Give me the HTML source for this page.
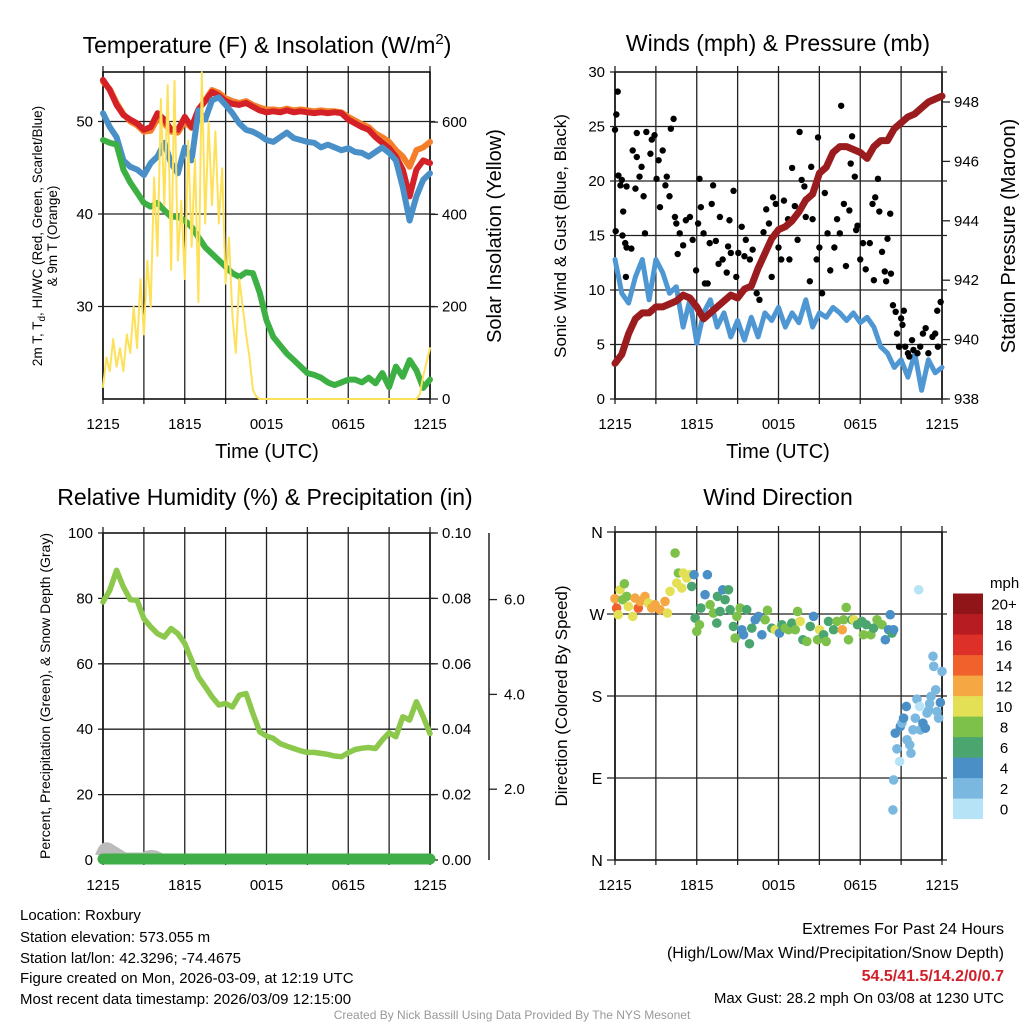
<!DOCTYPE html>
<html><head><meta charset="utf-8"><style>
body{margin:0;background:#fff}
svg{display:block;font-family:"Liberation Sans",sans-serif}
</style></head><body>
<svg id="c" width="1024" height="1024" xmlns="http://www.w3.org/2000/svg">
<g font-size="23" text-anchor="middle" fill="#000">
<text x="267" y="53">Temperature (F) &amp; Insolation (W/m<tspan dy="-9" font-size="15">2</tspan><tspan dy="9">)</tspan></text>
<text x="778" y="51">Winds (mph) &amp; Pressure (mb)</text>
<text x="265" y="505">Relative Humidity (%) &amp; Precipitation (in)</text>
<text x="778" y="505">Wind Direction</text>
</g>
<g fill="#000">
<text x="267" y="458" font-size="20" text-anchor="middle">Time (UTC)</text>
<text x="778" y="458" font-size="20" text-anchor="middle">Time (UTC)</text>
<text transform="translate(42,236) rotate(-90)" font-size="13.5" text-anchor="middle">2m T, T<tspan dy="3" font-size="10">d</tspan><tspan dy="-3">, HI/WC (Red, Green, Scarlet/Blue)</tspan></text>
<text transform="translate(57,236) rotate(-90)" font-size="13.5" text-anchor="middle">&amp; 9m T (Orange)</text>
<text transform="translate(501,236) rotate(-90)" font-size="20" text-anchor="middle">Solar Insolation (Yellow)</text>
<text transform="translate(566,236) rotate(-90)" font-size="17" text-anchor="middle">Sonic Wind &amp; Gust (Blue, Black)</text>
<text transform="translate(1015,236) rotate(-90)" font-size="20" text-anchor="middle">Station Pressure (Maroon)</text>
<text transform="translate(50,696) rotate(-90)" font-size="14" text-anchor="middle">Percent, Precipitation (Green), &amp; Snow Depth (Gray)</text>
<text transform="translate(567,696) rotate(-90)" font-size="17" text-anchor="middle">Direction (Colored By Speed)</text>
</g>
<g font-size="15" fill="#000">
<text x="20" y="920">Location: Roxbury</text>
<text x="20" y="942">Station elevation: 573.055 m</text>
<text x="20" y="963">Station lat/lon: 42.3296; -74.4675</text>
<text x="20" y="983">Figure created on Mon, 2026-03-09, at 12:19 UTC</text>
<text x="20" y="1004">Most recent data timestamp: 2026/03/09 12:15:00</text>
<g text-anchor="end">
<text x="1004" y="934" font-size="16">Extremes For Past 24 Hours</text>
<text x="1004" y="958" font-size="16">(High/Low/Max Wind/Precipitation/Snow Depth)</text>
<text x="1004" y="981" font-size="16" font-weight="bold" fill="#d0202a">54.5/41.5/14.2/0/0.7</text>
<text x="1004" y="1003" font-size="15">Max Gust: 28.2 mph On 03/08 at 1230 UTC</text>
</g>
<text x="512" y="1019" font-size="12" fill="#999" text-anchor="middle">Created By Nick Bassill Using Data Provided By The NYS Mesonet</text>
</g>
</svg>
<script>
// ---- data ----
const timeLabels = ["1215","1815","0015","0615","1215"];
const tempTicks = [30,40,50];
const insolTicks = [0,200,400,600];
const windTicks = [0,5,10,15,20,25,30];
const presTicks = [938,940,942,944,946,948];
const rhTicks = [0,20,40,60,80,100];
const precipTicks = ["0.00","0.02","0.04","0.06","0.08","0.10"];
const snowTicks = ["2.0","4.0","6.0"];
const dirLabels = ["N","E","S","W","N"];
const speedBins = ["0","2","4","6","8","10","12","14","16","18","20+"];
const speedColors = ["#b6e3f5","#7ab8e0","#4a8fc6","#4aa66e","#7ec14a","#e4e056","#f4a742","#f0612c","#dc3028","#b71c22","#8f1518"];

const tempT = [54.5,53.4,51.8,50.7,50.2,49.8,49.1,49.4,50.9,50.2,49.1,49.1,50.5,49.4,51.3,52.2,53.2,52.8,52.2,51.9,51.8,52,51.6,51.2,51.0,51.1,51.0,51.2,51.0,51.1,51.0,50.9,51.0,50.9,51.0,50.9,50.2,49.8,49.4,49.1,48.3,47.7,47.1,46.2,44.8,41.9,44.8,45.8,45.5];
const temp9m = [54.3,53.5,52.0,50.8,50.0,49.6,48.9,49.0,50.3,49.8,48.9,48.8,50.0,49.3,51.3,52.3,53.4,53.1,52.5,52.2,52.0,52.2,51.8,51.5,51.3,51.3,51.2,51.4,51.2,51.3,51.2,51.1,51.2,51.1,51.1,51.0,50.5,50.1,49.7,49.4,48.7,48.3,47.8,46.9,46.2,45.1,46.9,47.2,47.8];
const heatIdx = [50.9,49.4,48.3,45.8,45.1,44.8,44.2,45.5,46.2,47.7,45.5,44.4,47.2,45.8,51.2,50.2,52.3,52.6,51.8,50.9,49.8,49.1,48.9,48.5,48.0,47.8,48.3,48.8,48.2,48.0,47.8,47.7,47.2,47.5,47.2,46.9,47.1,46.7,46.6,46.2,46.7,47.2,46.6,45.8,42.9,39.3,41.9,43.7,44.4];
const dewT = [48.0,47.7,47.5,44.8,43.4,42.3,41.2,40.8,41.2,40.4,39.7,39.7,39.3,38.6,37.5,36.4,35.7,35.0,34.3,33.6,33.2,33.7,33.6,31.5,28.5,26.7,25.8,24.9,24.2,23.5,22.8,22.6,22.3,21.8,21.5,21.8,22.1,22.1,21.8,22.3,21.7,22.8,21.3,23.5,22.4,24.2,23.1,21.2,22.1];
const insolHours = [0,0.25,0.5,0.75,1,1.25,1.5,1.75,2,2.25,2.5,2.75,3,3.25,3.5,3.75,4,4.25,4.5,4.75,5,5.25,5.5,5.75,6,6.25,6.5,6.75,7,7.25,7.5,7.75,8,8.25,8.5,8.75,9,9.25,9.5,9.75,10,10.25,10.5,10.75,11,11.25,11.5,12,23,23.25,23.5,23.75,24];
const insol = [26,90,60,130,70,110,60,140,100,200,110,260,140,300,200,480,310,650,420,680,280,690,300,430,260,560,330,520,210,708,380,600,420,580,380,500,250,350,180,100,260,200,140,90,20,5,0,0,0,10,50,80,110];
const pres = [939.2,939.5,940.2,940.7,940.9,940.9,941.1,941.1,941.2,941.3,941.5,941.4,941.1,940.7,940.9,941.1,941.3,941.5,941.4,941.7,941.8,942.4,942.9,943.4,943.7,943.8,944.0,944.3,944.7,944.9,945.6,945.8,946.3,946.5,946.5,946.4,946.3,946.1,946.5,946.7,946.7,947.1,947.3,947.5,947.6,947.8,948.0,948.1,948.2];
const sonic = [12.8,9.7,8.8,11.2,12.8,9.1,12.8,11.6,9.7,10.3,6.6,9.1,5.1,7.9,9.1,6.6,7.9,5.7,7.2,5.4,7.5,5.7,7.9,7.2,8.4,6.6,7.9,7.0,9.1,6.6,7.9,7.5,8.4,7.9,7.2,7.9,7.0,7.5,6.6,4.8,4.2,2.9,3.6,2.0,4.2,0.8,3.6,2.4,2.9];
const gustHours = [0,0.2,0.1,0.25,0.4,0.5,0.6,0.05,0.55,0.75,0.85,1.2,0.8,0.85,1.3,1.6,1.5,1.6,1.8,1.95,2.1,2.3,2.6,2.2,2.7,2.9,3.05,3.2,3.5,3.7,3.8,3.3,4.0,4.3,4.1,4.4,4.5,4.75,4.6,5,5.2,5.5,5.7,5.95,6.1,6.2,6.5,6.3,6.6,6.8,6.95,7.2,7.1,7.4,7.6,7.7,7.9,8.2,8.3,8.5,8.4,8.7,8.9,9.05,9.3,9.5,9.6,9.9,10.1,10.4,10.6,10.9,11.1,11.3,11.5,11.6,11.8,12.0,12.2,12.4,12.7,12.8,13.0,13.2,13.4,13.55,13.7,13.9,14.0,14.3,14.4,14.5,14.8,14.9,15.0,15.2,15.4,15.6,15.8,16.1,16.3,16.5,16.6,16.8,16.95,17.2,17.3,17.4,17.6,17.7,17.8,18.0,18.2,18.4,18.7,18.9,19.0,19.1,19.3,19.4,19.6,19.8,19.9,20.0,20.2,20.25,20.4,20.6,20.7,20.85,21.0,21.1,21.2,21.3,21.5,21.6,21.8,21.9,22.2,22.4,22.6,22.8,23.0,23.3,23.5,23.7,23.65,23.9];
const gust = [24.7,28.2,26.1,20.5,19.6,20.1,17.2,15.4,15.0,14.3,13.9,13.8,11.2,19.5,22.8,22.2,19.3,24.4,20.4,21.3,18.6,24.5,22.5,15.2,23.8,24.2,20.2,21.9,22.8,19.6,20.4,17.6,18.6,25.7,24.8,16.7,16.1,15.2,13.3,14.1,16.4,16.7,14.6,11.8,16.1,20.2,15.2,17.6,10.6,10.6,14.3,19.6,17.9,14.5,12.4,16.7,12.8,11.6,14.0,13.4,16.4,19.1,11.2,13.4,15.8,13.1,14.6,12.8,13.7,9.7,9.1,15.3,17.4,16.1,11.2,18.5,17.9,13.9,12.8,18.2,16.5,12.8,21.2,17.7,14.6,24.5,20.1,19.5,16.7,10.8,21.3,16.5,12.8,24.0,13.9,9.7,18.9,15.2,11.8,13.9,16.5,15.2,26.9,17.9,12.2,17.3,21.6,24.1,20.4,15.5,15.9,12.8,14.3,11.9,14.3,17.9,10.9,18.5,20.2,17.2,13.5,11.7,10.8,14.7,17.0,11.5,8.6,8.0,6.0,4.8,7.4,6.8,8.1,4.8,4.2,3.9,5.4,4.5,4.2,4.8,6.0,6.5,4.2,5.7,6.0,4.8,8.1,8.9];
const rh = [78.9,82.5,88.6,83.5,79.6,79.4,73.8,71.3,69.2,68.2,70.8,69.2,66.2,61.1,56.0,53.0,49.9,47.4,47.9,46.8,50.4,50.9,44.8,39.2,37.9,37.2,35.6,34.8,34.1,33.4,32.9,32.9,32.6,32.3,31.8,31.6,32.8,33.8,34.2,34.4,34.1,36.7,38.9,37.7,43.8,42.8,48.4,43.8,38.7];
const dirHours = [0,0.12,0.24,0.37,0.56,0.69,0.86,0.98,1.3,1.47,1.71,1.84,2.2,2.45,2.7,2.94,3.3,3.67,3.85,4.04,4.41,4.53,4.65,4.9,5.02,5.27,5.51,5.63,5.8,5.88,6.0,6.2,6.3,6.61,6.78,6.98,7.22,7.47,7.52,7.71,7.91,8.08,8.33,8.45,8.69,8.82,8.94,9.18,9.31,9.43,9.67,9.87,10.04,10.29,10.53,10.78,11.02,11.19,11.51,11.76,12.07,12.25,12.49,12.74,12.98,13.23,13.4,13.59,13.79,14.08,14.33,14.57,14.87,15.01,15.31,15.5,15.67,16.04,16.29,16.68,16.78,16.97,17.14,17.39,17.51,17.8,18.12,18.24,18.44,18.78,18.98,19.23,19.6,19.84,20.08,20.2,20.33,20.45,20.45,20.4,20.57,20.69,20.89,20.94,21.06,21.18,21.38,21.43,21.63,21.72,21.87,22.04,22.16,22.29,22.36,22.41,22.6,22.78,22.9,23.02,23.09,23.19,23.39,23.34,23.54,23.63,23.75,23.88,24];
const dirDeg = [286.8,276.5,269.2,296.6,285.7,303.2,289.3,278.3,267.4,287.5,276.5,283.8,289.3,282,276.5,280.2,274.7,283.8,271,294.8,336.9,304,315,298.5,315,309.5,313.1,300.3,313.1,265.5,250.9,258.2,276.5,291.2,313.1,280.2,271,260,289.3,272.8,296.6,285.7,296.6,274.7,256.4,243.6,267.4,276.5,252.7,247.2,274.7,237.3,254.5,263.7,267.4,247.2,263.7,274,254.5,252.7,249,258.2,254.5,252.7,260,252.7,272.8,261.9,241.7,239.9,256.4,267.4,241.7,252.7,247.2,239.9,261.9,252.7,261.9,252.7,263.7,277.2,241.7,263.7,263.7,258.2,261.9,247.2,258.2,247.2,254.5,263.7,258.2,241.7,252.7,269.2,249,252.7,87.9,55,139.2,122,108.1,146.5,150.2,155.7,168.5,131.9,126.4,117.2,142.9,155.7,176.5,296.6,168.5,142.9,150.2,144.7,161.2,164.2,171.5,179.5,212.6,223.6,186.8,163,155.7,172.9,207];
const dirSpeed = [12,14,10,10,8,7,8,9,10,12,14,12,12,10,12,12,12,12,10,10,8,10,8,10,10,10,10,6,4,6,8,8,6,4,4,8,8,6,6,6,4,6,6,6,6,8,8,8,4,4,6,6,6,4,4,4,8,8,6,10,4,6,8,8,6,8,8,10,6,8,6,4,8,10,6,8,6,6,8,12,8,8,8,6,10,6,6,8,6,8,6,8,8,4,4,4,6,4,2,2,4,2,0,4,2,4,4,2,2,2,2,2,2,0,0,2,4,4,2,2,2,2,2,2,2,2,2,4,2];

// ---- helpers ----
const svg = document.getElementById('c');
const NS = 'http://www.w3.org/2000/svg';
function mk(tag, attrs, parent){const e=document.createElementNS(NS,tag);for(const k in attrs)e.setAttribute(k,attrs[k]);(parent||svg).appendChild(e);return e;}
function halfHours(n){const a=[];for(let i=0;i<n;i++)a.push(i*0.5);return a;}
function panel(x0,y0,x1,y1){return {x0,y0,x1,y1,x:h=>x0+(x1-x0)*h/24};}
const P1=panel(103,72,430,399), P2=panel(615,72,942,399), P3=panel(103,533,430,860), P4=panel(615,532,942,860);

function frame(P,name){
  const g=mk('g',{});
  
  
  for(let i=0;i<=8;i++){const x=P.x0+(P.x1-P.x0)*i/8;
    mk('line',{x1:x,y1:P.y0-6,x2:x,y2:P.y1+5,stroke:'#222','stroke-width':1.3},g);}
  timeLabels.forEach((l,i)=>{const t=mk('text',{x:P.x0+(P.x1-P.x0)*i/4,y:P.y1+30,'font-size':15,'text-anchor':'middle'},g);t.textContent=l;
    
    });
  mk('rect',{x:P.x0,y:P.y0,width:P.x1-P.x0,height:P.y1-P.y0,fill:'none',stroke:'#000','stroke-width':1.5},g);
  return g;
}
function hgrid(g,P,y,label,side,dx){
  mk('line',{x1:P.x0-5,y1:y,x2:P.x1+5,y2:y,stroke:'#222','stroke-width':1.3},g);
  if(label!==null){const t=mk('text',{x:side==='l'?P.x0-10:P.x1+(dx||10),y:y+5,'font-size':15,'text-anchor':side==='l'?'end':'start'},g);t.textContent=label;
    
    }
}
function rtick(g,P,y,label){
  mk('line',{x1:P.x1,y1:y,x2:P.x1+8,y2:y,stroke:'#222','stroke-width':1.3},g);
  if(label!==null){const t=mk('text',{x:P.x1+12,y:y+5,'font-size':15},g);t.textContent=label;
    
    }
}
function line(P,hours,vals,yf,color,w,name){
  const d=hours.map((h,i)=>(i?'L':'M')+P.x(h).toFixed(1)+' '+yf(vals[i]).toFixed(1)).join(' ');
  const p=mk('path',{d,fill:'none',stroke:color,'stroke-width':w,'stroke-linejoin':'round','stroke-linecap':'round'});
  
  
  return p;
}

// ---- panel 1 ----
const yT=v=>399-(v-20)*9.25, yS=v=>399-v*0.4615;
let g=frame(P1,'temperature');
tempTicks.forEach(v=>hgrid(g,P1,yT(v),v,'l'));
insolTicks.forEach(v=>rtick(g,P1,yS(v),v));
const hh=halfHours(49);
line(P1,hh,temp9m,yT,'#f47f2a',6,'series-9m-temp');
line(P1,hh,tempT,yT,'#d42027',6,'series-2m-temp');
line(P1,hh,heatIdx,yT,'#4a90c8',6,'series-heat-index');
line(P1,hh,dewT,yT,'#3db043',6,'series-dewpoint');
line(P1,insolHours,insol,yS,'#fde15a',2,'series-insolation');

// ---- panel 2 ----
const yW=v=>399-v*10.9, yP=v=>399-(v-938)*29.7;
g=frame(P2,'winds');
windTicks.forEach(v=>hgrid(g,P2,yW(v),v,'l'));
presTicks.forEach(v=>rtick(g,P2,yP(v),v));
line(P2,hh,sonic,yW,'#4f97d3',5,'series-sonic-wind');
gustHours.forEach((h,i)=>{const c=mk('circle',{cx:P2.x(h),cy:yW(gust[i]),r:3.2,fill:'#000'});
  
  });
line(P2,hh,pres,yP,'#9b1c1f',7,'series-pressure');

// ---- panel 3 ----
const yR=v=>860-v*3.27;
g=frame(P3,'humidity');
rhTicks.forEach((v,i)=>{hgrid(g,P3,yR(v),v,'l');rtick(g,P3,yR(v),precipTicks[i]);});
mk('line',{x1:489,y1:533,x2:489,y2:860,stroke:'#222','stroke-width':1.5},g);
snowTicks.forEach(l=>{const y=884-parseFloat(l)*47.4;mk('line',{x1:489,y1:y,x2:497,y2:y,stroke:'#222','stroke-width':1.3},g);
  const t=mk('text',{x:504,y:y+5,'font-size':15},g);t.textContent=l;
  
  });
const snow=mk('path',{d:'M100 852 Q104 842 112 848 L125 856 L160 856 Q150 850 140 858 Z',fill:'#bbb',stroke:'#bbb','stroke-width':7});


const pr=mk('line',{x1:P3.x0,y1:859,x2:P3.x1,y2:859,stroke:'#3fae48','stroke-width':11,'stroke-linecap':'round'});


line(P3,hh,rh,yR,'#8cc84b',5.5,'series-humidity');

// ---- panel 4 ----
const yD=v=>860-v*328/360;
g=frame(P4,'direction');
dirLabels.forEach((l,i)=>{const y=yD(i*90);mk('line',{x1:P4.x0-8,y1:y,x2:P4.x1+5,y2:y,stroke:'#222','stroke-width':1.3},g);
  const t=mk('text',{x:P4.x0-18,y:y+6,'font-size':16,'text-anchor':'middle'},g);t.textContent=l;
  
  });
function spColor(s){let k=Math.floor(s/2+0.5);if(s>=20)k=10;return speedColors[Math.max(0,Math.min(10,k))];}
dirHours.forEach((h,i)=>{const c=mk('circle',{cx:P4.x(h),cy:yD(dirDeg[i]),r:4.8,fill:spColor(dirSpeed[i])});
  
  });
// colorbar
const cb=mk('g',{});


const cbT=mk('text',{x:990,y:588,'font-size':15},cb);cbT.textContent='mph';
speedBins.forEach((l,i)=>{const y=819-(i+1)*20.5;
  mk('rect',{x:953,y:y,width:30,height:20.6,fill:speedColors[i]},cb);
  const t=mk('text',{x:1004,y:y+16,'font-size':15,'text-anchor':'middle'},cb);t.textContent=l;
  
  });
</script>
</body></html>
